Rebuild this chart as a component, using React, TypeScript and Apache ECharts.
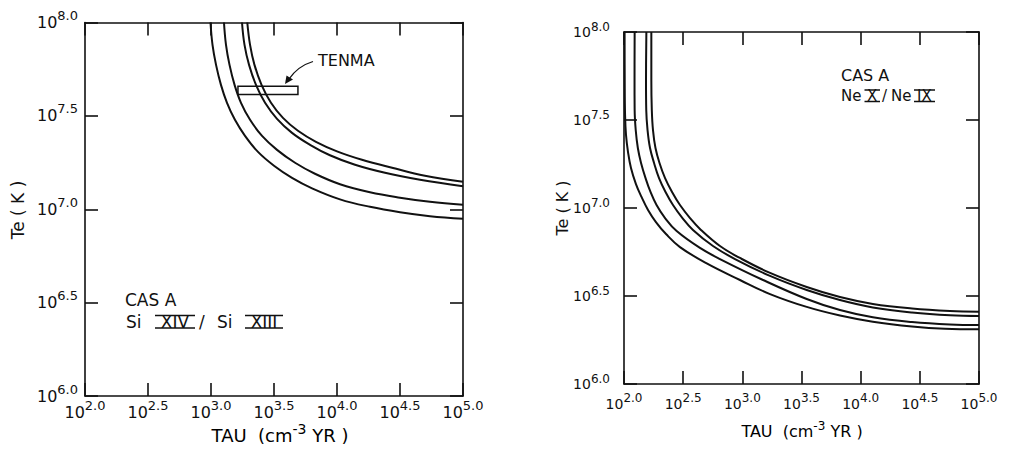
import React, { useEffect, useRef } from "react";
import * as echarts from "echarts";

const FONT = "DejaVu Sans";

// Axis ticks (exponents of ten)
const tauTicks = [2.0, 2.5, 3.0, 3.5, 4.0, 4.5, 5.0];
const teTicks = [6.0, 6.5, 7.0, 7.5, 8.0];

// Left panel: CAS A, Si XIV / Si XIII  — [log10 TAU, log10 Te]
const siCurve1 = [
  [2.996, 8.0], [3.012, 7.88], [3.04, 7.773], [3.079, 7.666], [3.127, 7.57], [3.19, 7.479],
  [3.27, 7.393], [3.373, 7.307], [3.5, 7.233], [3.643, 7.168], [3.802, 7.112], [4.024, 7.053],
  [4.262, 7.013], [4.5, 6.984], [4.738, 6.963], [5.0, 6.949],
];
const siCurve2 = [
  [3.103, 8.0], [3.119, 7.88], [3.147, 7.773], [3.187, 7.666], [3.238, 7.57], [3.31, 7.479],
  [3.405, 7.393], [3.524, 7.318], [3.667, 7.249], [3.825, 7.19], [4.024, 7.134], [4.262, 7.091],
  [4.5, 7.062], [4.738, 7.04], [5.0, 7.024],
];
const siCurve3 = [
  [3.246, 8.0], [3.266, 7.88], [3.302, 7.773], [3.357, 7.666], [3.429, 7.57], [3.524, 7.484],
  [3.643, 7.409], [3.786, 7.345], [3.944, 7.289], [4.143, 7.238], [4.381, 7.195], [4.659, 7.158],
  [5.0, 7.123],
];
const siCurve4 = [
  [3.288, 8.0], [3.31, 7.88], [3.345, 7.773], [3.401, 7.666], [3.476, 7.57], [3.571, 7.489],
  [3.69, 7.42], [3.833, 7.361], [4.0, 7.31], [4.198, 7.265], [4.437, 7.222], [4.698, 7.179],
  [5.0, 7.147],
];

// TENMA box
const tenmaTau = [3.214, 3.69];
const tenmaTe = [7.614, 7.659];

// Right panel: CAS A, Ne X / Ne IX
const neCurve1 = [
  [2.005, 8.0], [2.006, 7.727], [2.009, 7.528], [2.017, 7.415], [2.034, 7.318], [2.059, 7.227],
  [2.101, 7.136], [2.148, 7.063], [2.203, 6.989], [2.27, 6.92], [2.355, 6.852], [2.473, 6.778],
  [2.699, 6.685], [2.98, 6.591], [3.234, 6.511], [3.544, 6.438], [3.825, 6.389], [4.103, 6.354],
  [4.434, 6.327], [4.713, 6.314], [5.0, 6.311],
];
const neCurve2 = [
  [2.09, 8.0], [2.089, 7.727], [2.09, 7.557], [2.099, 7.443], [2.117, 7.341], [2.144, 7.256],
  [2.182, 7.17], [2.224, 7.091], [2.275, 7.017], [2.347, 6.943], [2.445, 6.869], [2.642, 6.773],
  [2.811, 6.71], [3.175, 6.591], [3.544, 6.483], [3.825, 6.42], [4.103, 6.379], [4.434, 6.352],
  [4.755, 6.338], [5.0, 6.335],
];
const neCurve3 = [
  [2.189, 8.0], [2.186, 7.727], [2.188, 7.557], [2.199, 7.443], [2.22, 7.341], [2.254, 7.256],
  [2.296, 7.17], [2.351, 7.091], [2.414, 7.017], [2.494, 6.943], [2.583, 6.875], [2.752, 6.784],
  [2.938, 6.71], [3.234, 6.614], [3.544, 6.534], [3.825, 6.477], [4.103, 6.435], [4.434, 6.406],
  [4.755, 6.39], [5.0, 6.386],
];
const neCurve4 = [
  [2.231, 8.0], [2.231, 7.727], [2.235, 7.557], [2.245, 7.443], [2.266, 7.341], [2.3, 7.256],
  [2.347, 7.17], [2.406, 7.091], [2.473, 7.017], [2.558, 6.943], [2.642, 6.881], [2.811, 6.784],
  [2.98, 6.716], [3.234, 6.631], [3.544, 6.551], [3.825, 6.494], [4.103, 6.455], [4.434, 6.429],
  [4.755, 6.415], [5.0, 6.411],
];

const INK = "#111";

const richBig = {
  b: { fontFamily: FONT, fontSize: 16, color: INK },
  s: { fontFamily: FONT, fontSize: 13, color: INK, padding: [0, 0, 14, 0] },
};
const richSmall = {
  b: { fontFamily: FONT, fontSize: 14, color: INK },
  s: { fontFamily: FONT, fontSize: 12, color: INK, padding: [0, 0, 11, 0] },
};
const fmt = (v: number) => `{b|10}{s|${v.toFixed(1)}}`;

function xAxis(gridIndex: number, position: "top" | "bottom", margin = 4, rich: any = richBig) {
  return {
    type: "value",
    gridIndex,
    position,
    min: tauTicks[0],
    max: tauTicks[tauTicks.length - 1],
    interval: 0.5,
    axisLine: { show: true, onZero: false, lineStyle: { color: INK, width: 1.6 } },
    axisTick: { show: true, inside: true, length: 13, lineStyle: { color: INK, width: 1.6 } },
    axisLabel:
      position === "bottom"
        ? { show: true, margin, formatter: fmt, rich, showMinLabel: true, showMaxLabel: true }
        : { show: false },
    splitLine: { show: false },
  };
}
function yAxis(gridIndex: number, position: "left" | "right", margin = 7, rich: any = richBig) {
  return {
    type: "value",
    gridIndex,
    position,
    min: teTicks[0],
    max: teTicks[teTicks.length - 1],
    interval: 0.5,
    axisLine: { show: true, onZero: false, lineStyle: { color: INK, width: 1.6 } },
    axisTick: { show: true, inside: true, length: 13, lineStyle: { color: INK, width: 1.6 } },
    axisLabel:
      position === "left"
        ? { show: true, margin, formatter: fmt, rich, showMinLabel: true, showMaxLabel: true }
        : { show: false },
    splitLine: { show: false },
  };
}

function curve(data: number[][], xi: number, yi: number, extra: any = {}) {
  return {
    type: "line",
    xAxisIndex: xi,
    yAxisIndex: yi,
    data,
    smooth: 0.4,
    showSymbol: false,
    symbol: "none",
    clip: true,
    lineStyle: { color: INK, width: 2 },
    silent: true,
    ...extra,
  };
}

const txt = (x: number, y: number, text: string, extra: any = {}, rotation = 0) => ({
  type: "text",
  x,
  y,
  rotation,
  silent: true,
  style: {
    text,
    fontFamily: FONT,
    fontSize: 17,
    fill: INK,
    textVerticalAlign: "middle",
    ...extra,
  },
});
const bar = (x1: number, x2: number, y: number) => ({
  type: "line",
  silent: true,
  shape: { x1, y1: y, x2, y2: y },
  style: { stroke: INK, lineWidth: 1.5 },
});

export default function App() {
  const ref = useRef<HTMLDivElement>(null);
  useEffect(() => {
    if (!ref.current) return;
    const chart = echarts.init(ref.current, null, { renderer: "svg" });
    const titleRich = (fs: number) => ({
      a: { fontFamily: FONT, fontSize: fs, color: INK },
      s: { fontFamily: FONT, fontSize: fs - 4, color: INK, padding: [0, 0, fs - 5, 0] },
    });
    chart.setOption({
      animation: false,
      backgroundColor: "#fff",
      grid: [
        { left: 85, top: 22.5, width: 378, height: 373.5 },
        { left: 624, top: 32, width: 355, height: 352 },
      ],
      xAxis: [
        xAxis(0, "bottom", 3, richBig),
        xAxis(0, "top"),
        xAxis(1, "bottom", 8, richSmall),
        xAxis(1, "top"),
      ],
      yAxis: [
        yAxis(0, "left", 7, richBig),
        yAxis(0, "right"),
        yAxis(1, "left", 14, richSmall),
        yAxis(1, "right"),
      ],
      series: [
        curve(siCurve1, 0, 0, {
          markArea: {
            silent: true,
            label: { show: false },
            itemStyle: { color: "rgba(0,0,0,0)", borderColor: INK, borderWidth: 1.5 },
            data: [[{ coord: [tenmaTau[0], tenmaTe[1]] }, { coord: [tenmaTau[1], tenmaTe[0]] }]],
          },
        }),
        curve(siCurve2, 0, 0),
        curve(siCurve3, 0, 0),
        curve(siCurve4, 0, 0),
        curve(neCurve1, 2, 2),
        curve(neCurve2, 2, 2),
        curve(neCurve3, 2, 2),
        curve(neCurve4, 2, 2),
      ],
      graphic: [
        // y-axis titles
        txt(18, 210, "Te ( K )", { textAlign: "center", fontSize: 17 }, Math.PI / 2),
        txt(562, 208, "Te ( K )", { textAlign: "center", fontSize: 16 }, Math.PI / 2),
        // x-axis titles
        {
          type: "text",
          x: 280,
          y: 435,
          silent: true,
          style: {
            text: "{a|TAU  (cm}{s|-3}{a| YR )}",
            rich: titleRich(18),
            textAlign: "center",
            textVerticalAlign: "middle",
          },
        },
        {
          type: "text",
          x: 802,
          y: 431,
          silent: true,
          style: {
            text: "{a|TAU  (cm}{s|-3}{a| YR )}",
            rich: titleRich(16),
            textAlign: "center",
            textVerticalAlign: "middle",
          },
        },
        // left annotation
        txt(125, 300, "CAS A"),
        txt(126, 322, "Si"),
        txt(175, 322, "XIV", { textAlign: "center" }),
        txt(199, 322, "/"),
        txt(217, 322, "Si"),
        txt(264, 322, "XIII", { textAlign: "center" }),
        bar(155, 195, 315.5),
        bar(155, 195, 328),
        bar(245, 283, 315.5),
        bar(245, 283, 328),
        // right annotation
        txt(841, 75, "CAS A", { fontSize: 16 }),
        txt(841, 96, "Ne", { fontSize: 15 }),
        txt(867, 96, "X", { fontSize: 15 }),
        txt(882, 96, "/", { fontSize: 15 }),
        txt(891, 96, "Ne", { fontSize: 15 }),
        txt(917, 96, "IX", { fontSize: 15 }),
        bar(864.5, 880, 90),
        bar(864.5, 880, 101.5),
        bar(914, 935, 90),
        bar(914, 935, 101.5),
        // TENMA label + arrow
        txt(318, 60, "TENMA", { fontSize: 16 }),
        {
          type: "bezierCurve",
          silent: true,
          shape: { x1: 313, y1: 61.5, cpx1: 298, cpy1: 66, x2: 289, y2: 79 },
          style: { stroke: INK, lineWidth: 1.3, fill: "none" },
        },
        {
          type: "polygon",
          silent: true,
          shape: { points: [[285, 84], [286.5, 75.5], [293, 79.5]] },
          style: { fill: INK },
        },
      ],
    });
    return () => chart.dispose();
  }, []);
  return (
    <div
      ref={ref}
      style={{ position: "fixed", left: 0, top: 0, width: 1010, height: 456, background: "#fff" }}
    />
  );
}
